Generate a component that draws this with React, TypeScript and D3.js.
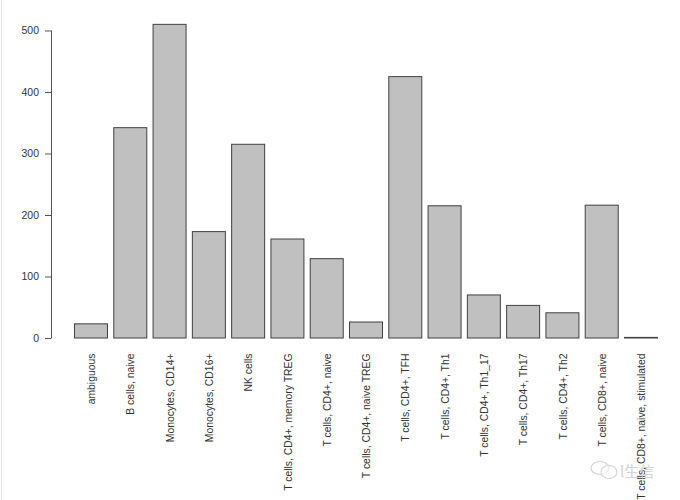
import React, { useEffect, useRef } from "react";
import * as d3 from "d3";

const categories = [
  "ambiguous",
  "B cells, naive",
  "Monocytes, CD14+",
  "Monocytes, CD16+",
  "NK cells",
  "T cells, CD4+, memory TREG",
  "T cells, CD4+, naive",
  "T cells, CD4+, naive TREG",
  "T cells, CD4+, TFH",
  "T cells, CD4+, Th1",
  "T cells, CD4+, Th1_17",
  "T cells, CD4+, Th17",
  "T cells, CD4+, Th2",
  "T cells, CD8+, naive",
  "T cells, CD8+, naive, stimulated",
];
const counts = [23, 342, 510, 173, 315, 161, 129, 26, 425, 215, 70, 53, 41, 216, 1];
const yTicks = [0, 100, 200, 300, 400, 500];

const width = 680;
const height = 500;
const font = "'Liberation Sans', Arial, sans-serif";

const App = () => {
  const ref = useRef<SVGSVGElement>(null);

  useEffect(() => {
    const svg = d3.select(ref.current);
    svg.selectAll("*").remove();

    const x = d3.scaleBand().domain(categories).range([74.5, 657.5]).paddingInner(0.16).paddingOuter(0);
    const y = d3.scaleLinear().domain([0, 500]).range([338, 30.5]);

    // faint edge of the original screenshot
    svg.append("line").attr("x1", 1.5).attr("x2", 1.5).attr("y1", 0).attr("y2", height)
      .attr("stroke", "#e8e8e8").attr("stroke-width", 1);

    // bars
    svg.append("g")
      .selectAll("rect")
      .data(categories)
      .enter()
      .append("rect")
      .attr("x", (d) => x(d)!)
      .attr("y", (d, i) => y(counts[i]))
      .attr("width", x.bandwidth())
      .attr("height", (d, i) => y(0) - y(counts[i]))
      .attr("fill", "#c0c0c0")
      .attr("stroke", "#404040")
      .attr("stroke-width", 1);

    // y axis, R style
    const axis = svg.append("g").attr("transform", "translate(51.5,0)")
      .call(d3.axisLeft(y).tickValues(yTicks).tickSize(6.5).tickPadding(6).tickFormat(d3.format("d")));
    axis.selectAll(".domain").attr("stroke", "#555").attr("d", `M0,${y(500)}V${y(0)}`);
    axis.selectAll(".tick line").attr("stroke", "#555");
    axis.selectAll("text").attr("font-family", font).attr("font-size", 10.5).attr("fill", "#333");

    // category labels
    svg.append("g")
      .selectAll("text")
      .data(categories)
      .enter()
      .append("text")
      .attr("transform", (d) => `translate(${x(d)! + x.bandwidth() / 2 + 0.5},353.5) rotate(-90)`)
      .attr("text-anchor", "end")
      .attr("dy", "0.35em")
      .attr("font-family", font)
      .attr("font-size", 10.4)
      .attr("fill", "#333")
      .text((d) => d);

    // watermark
    const mark = svg.append("g").attr("fill", "none").attr("stroke", "#cfcfcf").attr("stroke-width", 1.2).attr("opacity", 0.85);
    mark.append("ellipse").attr("cx", 600).attr("cy", 468).attr("rx", 9).attr("ry", 6.5);
    mark.append("ellipse").attr("cx", 609).attr("cy", 472).attr("rx", 8).attr("ry", 6.5).attr("fill", "#fff").attr("fill-opacity", 0.5);
    svg.append("text")
      .attr("x", 620)
      .attr("y", 477)
      .attr("font-family", "'Noto Sans CJK SC', sans-serif")
      .attr("font-size", 15)
      .attr("fill", "#cccccc")
      .attr("opacity", 0.85)
      .text("l生信");
  }, []);

  return (
    <svg
      ref={ref}
      width={width}
      height={height}
      style={{ position: "absolute", left: 0, top: 0, background: "#fff" }}
    />
  );
};

export default App;
